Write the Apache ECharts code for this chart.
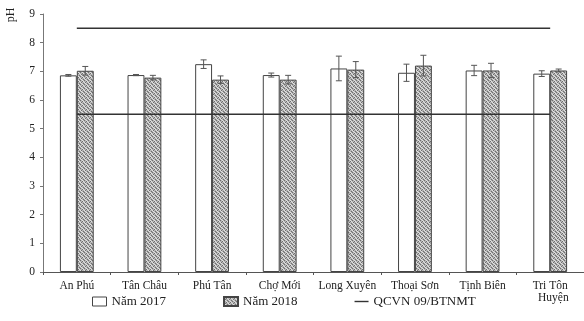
<!DOCTYPE html>
<html>
<head>
<meta charset="utf-8">
<script src="https://cdn.jsdelivr.net/npm/echarts@6/dist/echarts.min.js"></script>
<style>
html,body{margin:0;padding:0;background:#fff;}
#c{width:584px;height:321px;}
</style>
</head>
<body>
<div id="c"></div>
<script>
const categories = ['An Phú', 'Tân Châu', 'Phú Tân', 'Chợ Mới', 'Long Xuyên', 'Thoại Sơn', 'Tịnh Biên', 'Tri Tôn'];
const ph2017 = [6.86, 6.87, 7.25, 6.87, 7.10, 6.95, 7.03, 6.92];
const err2017 = [0.03, 0.02, 0.15, 0.07, 0.43, 0.30, 0.18, 0.10];
const ph2018 = [7.02, 6.78, 6.71, 6.71, 7.06, 7.20, 7.03, 7.03];
const err2018 = [0.15, 0.08, 0.13, 0.15, 0.28, 0.36, 0.25, 0.05];
const qcvnUpper = [8.5, 8.5, 8.5, 8.5, 8.5, 8.5, 8.5, 8.5];
const qcvnLower = [5.5, 5.5, 5.5, 5.5, 5.5, 5.5, 5.5, 5.5];
const yTicks = [0, 1, 2, 3, 4, 5, 6, 7, 8, 9];

// speckled hatch pattern
const pc = document.createElement('canvas');
pc.width = 4; pc.height = 4;
const px = pc.getContext('2d');
px.fillStyle = '#b4b4b4'; px.fillRect(0, 0, 4, 4);
px.fillStyle = '#6e6e6e';
[[0,0],[2,1],[1,2],[3,3]].forEach(p => px.fillRect(p[0], p[1], 1, 1));
px.fillStyle = '#e2e2e2';
[[2,0],[0,2],[3,1],[1,3]].forEach(p => px.fillRect(p[0], p[1], 1, 1));

const font = 'Liberation Serif';
const chart = echarts.init(document.getElementById('c'), null, {renderer: 'canvas'});

function errSeries(vals, errs, offset) {
  return {
    type: 'custom',
    z: 5,
    data: vals.map((v, i) => [i, v, errs[i]]),
    encode: {x: 0, y: 1},
    renderItem: function (params, api) {
      const i = api.value(0), v = api.value(1), e = api.value(2);
      const bw = api.size([1, 0])[0];
      const c = api.coord([i, v]);
      const x = c[0] + offset * bw;
      const hi = api.coord([i, v + e])[1];
      const lo = api.coord([i, v - e])[1];
      const st = {stroke: '#555', lineWidth: 1};
      return {
        type: 'group',
        children: [
          {type: 'line', shape: {x1: x, y1: hi, x2: x, y2: lo}, style: st},
          {type: 'line', shape: {x1: x - 3, y1: hi, x2: x + 3, y2: hi}, style: st},
          {type: 'line', shape: {x1: x - 3, y1: lo, x2: x + 3, y2: lo}, style: st}
        ]
      };
    }
  };
}

chart.setOption({
  animation: false,
  backgroundColor: '#fff',
  textStyle: {fontFamily: font, color: '#222'},
  grid: {left: 43, top: 14, width: 544, height: 258, containLabel: false},
  legend: {
    left: 87, top: 290,
    itemGap: 57,
    itemWidth: 14, itemHeight: 9,
    textStyle: {fontFamily: font, fontSize: 13, color: '#222'},
    data: [
      {name: 'Năm 2017', icon: 'rect', itemStyle: {color: '#fff', borderColor: '#444', borderWidth: 1}},
      {name: 'Năm 2018', icon: 'rect'},
      {name: 'QCVN 09/BTNMT', icon: 'path://M0,0 H14 V1.4 H0 Z', itemStyle: {color: '#333'}}
    ]
  },
  xAxis: {
    type: 'category',
    data: categories,
    boundaryGap: true,
    name: 'Huyện',
    nameLocation: 'end',
    nameGap: -46,
    nameTextStyle: {fontFamily: font, fontSize: 11.5, color: '#222', verticalAlign: 'top', padding: [20, 0, 0, 0]},
    axisLine: {lineStyle: {color: '#555', width: 1}},
    axisTick: {show: true, length: 3, alignWithLabel: false, lineStyle: {color: '#555'}},
    axisLabel: {fontFamily: font, fontSize: 11.5, color: '#222', margin: 8, interval: 0},
    splitLine: {show: false}
  },
  yAxis: {
    type: 'value',
    min: 0, max: 9, interval: 1,
    axisLine: {show: true, lineStyle: {color: '#777', width: 1}},
    axisTick: {show: true, length: 3, lineStyle: {color: '#777'}},
    axisLabel: {fontFamily: font, fontSize: 11.5, color: '#222', margin: 8,
      formatter: v => yTicks.includes(v) ? String(v) : ''},
    splitLine: {show: false}
  },
  graphic: [{
    type: 'text', x: 11, y: 15, rotation: Math.PI / 2,
    style: {text: 'pH', font: '12px "Liberation Serif"', fill: '#222', align: 'center', verticalAlign: 'middle'}
  }],
  series: [
    {
      name: 'Năm 2017', type: 'bar', data: ph2017,
      barWidth: '25%', barGap: '0%',
      itemStyle: {color: '#fff', borderColor: '#444', borderWidth: 1}
    },
    {
      name: 'Năm 2018', type: 'bar', data: ph2018,
      barWidth: '25%', barGap: '0%',
      itemStyle: {color: {image: pc, repeat: 'repeat'}, borderColor: '#444', borderWidth: 1}
    },
    errSeries(ph2017, err2017, -0.125),
    errSeries(ph2018, err2018, 0.125),
    {
      name: 'QCVN 09/BTNMT', type: 'line', data: qcvnUpper, symbol: 'none', z: 6,
      lineStyle: {color: '#333', width: 1.5}, itemStyle: {color: '#333'}
    },
    {
      name: 'QCVN 09/BTNMT', type: 'line', data: qcvnLower, symbol: 'none', z: 6,
      lineStyle: {color: '#333', width: 1.5}, itemStyle: {color: '#333'}
    }
  ]
});
</script>
</body>
</html>
